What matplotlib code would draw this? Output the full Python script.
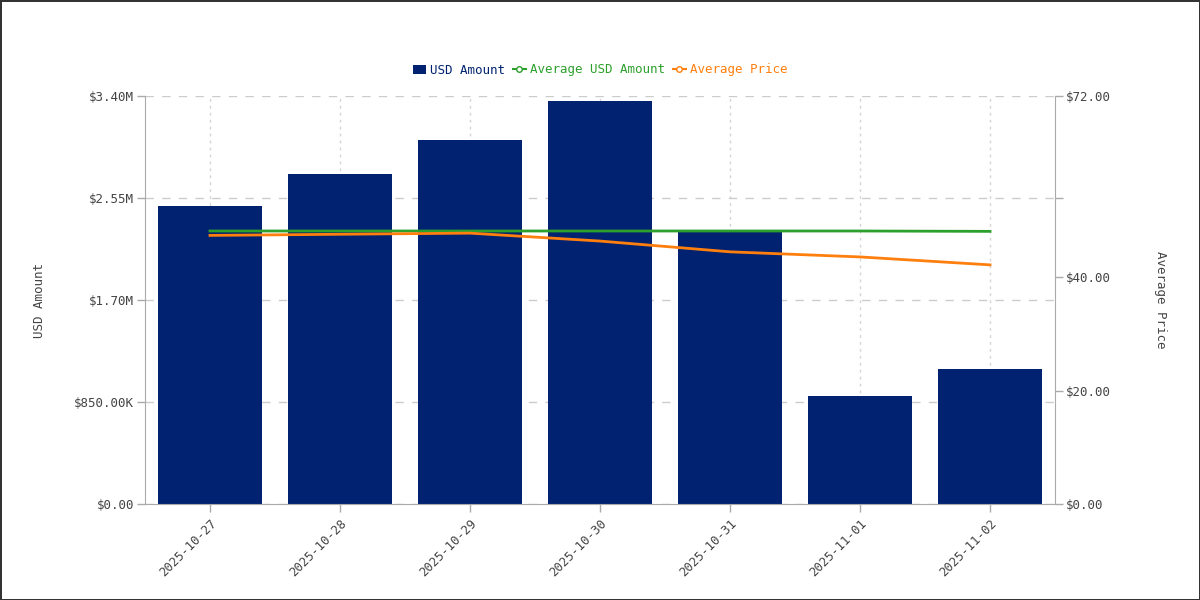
import matplotlib
matplotlib.use("Agg")
import matplotlib.pyplot as plt
from matplotlib.lines import Line2D
from matplotlib.patches import Patch

dates = ["2025-10-27", "2025-10-28", "2025-10-29", "2025-10-30",
         "2025-10-31", "2025-11-01", "2025-11-02"]
usd_amount = [2.483e6, 2.75e6, 3.033e6, 3.358e6, 2.267e6, 0.90e6, 1.125e6]
avg_usd_amount = [2.275e6, 2.275e6, 2.275e6, 2.275e6, 2.275e6, 2.275e6, 2.272e6]
avg_price = [47.4, 47.6, 47.8, 46.4, 44.5, 43.6, 42.2]

left_ticks = [0, 850e3, 1.7e6, 2.55e6, 3.4e6]
left_labels = ["$0.00", "$850.00K", "$1.70M", "$2.55M", "$3.40M"]
right_ticks = [0, 20, 40, 54, 72]
right_labels = ["$0.00", "$20.00", "$40.00", "", "$72.00"]

BAR = "#002270"
GREEN = "#2ca02c"
ORANGE = "#ff7f0e"
TXT = "#444444"
FONT = "DejaVu Sans Mono"

plt.rcParams["font.family"] = FONT
fig = plt.figure(figsize=(12, 6), dpi=100)
fig.patch.set_edgecolor("#333333")
fig.patch.set_linewidth(2)
ax = fig.add_axes([145/1200, 96/600, 910/1200, 408/600])
ax2 = ax.twinx()

x = list(range(len(dates)))
ax.bar(x, usd_amount, width=0.8, color=BAR, zorder=2)
ax.plot(x, avg_usd_amount, color=GREEN, lw=2, zorder=3)
ax2.plot(x, avg_price, color=ORANGE, lw=2, zorder=3)

ax.set_xlim(-0.5, len(dates) - 0.5)
ax.set_ylim(0, 3.4e6)
ax2.set_ylim(0, 72)
ax.set_yticks(left_ticks)
ax.set_yticklabels(left_labels)
ax2.set_yticks(right_ticks)
ax2.set_yticklabels(right_labels)
ax.set_xticks(x)
ax.set_xticklabels(dates, rotation=45, ha="right", rotation_mode="anchor")

ax.grid(axis="y", color="#cccccc", ls=(0, (6, 6)), lw=1, zorder=0)
ax.grid(axis="x", color="#d5d5d5", ls=(0, (2, 3)), lw=1, zorder=0)
ax.set_axisbelow(True)

for a in (ax, ax2):
    for s in a.spines.values():
        s.set_visible(False)
    a.tick_params(labelsize=9, colors=TXT, length=6, width=1)
    a.tick_params(axis="both", color="#aaaaaa")
ax.spines["left"].set_visible(True)
ax.spines["left"].set_color("#aaaaaa")
ax.spines["bottom"].set_visible(True)
ax.spines["bottom"].set_color("#aaaaaa")
ax2.spines["right"].set_visible(True)
ax2.spines["right"].set_color("#aaaaaa")
ax.tick_params(axis="y", pad=2)
ax2.tick_params(axis="y", pad=2)

ax.set_ylabel("USD Amount", fontsize=9, color=TXT, labelpad=20)
ax2.set_ylabel("Average Price", fontsize=9, color=TXT, rotation=-90, labelpad=40)

handles = [Patch(facecolor=BAR),
           Line2D([0], [0], color=GREEN, lw=1.5, marker="o", markersize=4, markerfacecolor="white"),
           Line2D([0], [0], color=ORANGE, lw=1.5, marker="o", markersize=4, markerfacecolor="white")]
leg = fig.legend(handles, ["USD Amount", "Average USD Amount", "Average Price"],
                 loc="center", bbox_to_anchor=(0.5, 1 - 70/600), ncol=3, frameon=False,
                 fontsize=9, handlelength=1.1, handletextpad=0.3, columnspacing=0.6)
for t, c in zip(leg.get_texts(), [BAR, GREEN, ORANGE]):
    t.set_color(c)

fig.savefig("out.png", dpi=100)
